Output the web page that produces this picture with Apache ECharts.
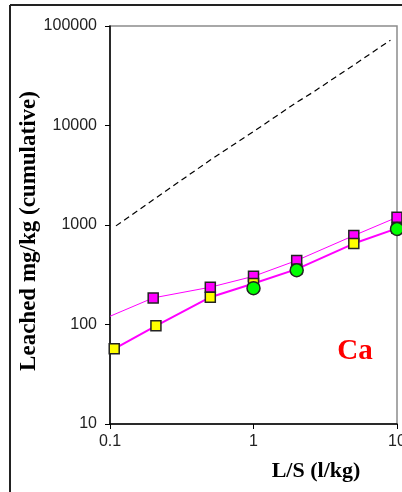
<!DOCTYPE html>
<html>
<head>
<meta charset="utf-8">
<script src="https://cdn.jsdelivr.net/npm/echarts@6/dist/echarts.min.js"></script>
<style>
html,body{margin:0;padding:0;background:#fff;}
#c{width:402px;height:492px;}
</style>
</head>
<body>
<div id="c"></div>
<script>
// Data
var dashX = [0.11, 0.2, 0.5, 1, 2, 2.6, 5, 9];
var dashY = [980, 1790, 4500, 8700, 17100, 21600, 40600, 72000];

var magentaX = [0.1, 0.2, 0.5, 1, 2, 5, 10];
var magentaY = [121, 185, 237, 305, 440, 783, 1195];

var yellowX = [0.107, 0.209, 0.5, 1, 2, 5, 10];
var yellowY = [57, 97, 188, 258, 360, 651, 926];

var greenX = [1, 2, 10];
var greenY = [232, 351, 912];

var xTicks = [0.1, 1, 10];
var yTicks = [10, 100, 1000, 10000, 100000];

var yTitle = 'Leached mg/kg (cumulative)';
var xTitle = 'L/S (l/kg)';
var elementLabel = 'Ca';

function pairs(xs, ys) { return xs.map(function (x, i) { return [x, ys[i]]; }); }

var chart = echarts.init(document.getElementById('c'), null, {renderer: 'canvas'});

var magentaData = pairs(magentaX, magentaY).map(function (p, i) {
  return i === 0 ? {value: p, symbolSize: 0} : p;
});

var serifFont = '"Liberation Serif", "Times New Roman", serif';
var sansFont = '"Liberation Sans", Arial, sans-serif';

chart.setOption({
  animation: false,
  backgroundColor: '#ffffff',
  grid: {
    left: 110, top: 26, right: 5, bottom: 68,
    containLabel: false, outerBoundsMode: 'none',
    show: true, borderColor: '#8c8c8c', borderWidth: 1.5, backgroundColor: 'transparent'
  },
  xAxis: {
    type: 'log', logBase: 10, min: xTicks[0], max: xTicks[xTicks.length - 1],
    axisLine: {show: true, onZero: false, lineStyle: {color: '#000', width: 1.5}},
    axisTick: {show: true, length: 5, lineStyle: {color: '#000', width: 1}},
    minorTick: {show: false},
    splitLine: {show: false},
    axisLabel: {
      margin: 10, color: '#222', fontSize: 16, fontFamily: sansFont,
      formatter: function (v) { return String(+Number(v).toPrecision(6)); },
      showMaxLabel: true
    }
  },
  yAxis: {
    type: 'log', logBase: 10, min: yTicks[0], max: yTicks[yTicks.length - 1],
    axisLine: {show: true, onZero: false, lineStyle: {color: '#000', width: 1.5}},
    axisTick: {show: true, length: 5, lineStyle: {color: '#000', width: 1}},
    splitLine: {show: false},
    axisLabel: {
      margin: 13, color: '#222', fontSize: 16, fontFamily: sansFont,
      formatter: function (v) { return String(+Number(v).toPrecision(6)); }
    }
  },
  series: [
    {
      type: 'line', data: pairs(dashX, dashY), symbol: 'none', clip: false,
      lineStyle: {color: '#000', width: 1.2, type: [6, 4]}, z: 2
    },
    {
      type: 'line', data: magentaData, symbol: 'rect', symbolSize: 10, clip: false,
      lineStyle: {color: '#ff00ff', width: 1},
      itemStyle: {color: '#ff00ff', borderColor: '#222', borderWidth: 1.5}, z: 3
    },
    {
      type: 'line', data: pairs(yellowX, yellowY), symbol: 'rect', symbolSize: 10, clip: false,
      lineStyle: {color: '#ff00ff', width: 2},
      itemStyle: {color: '#ffff00', borderColor: '#222', borderWidth: 1.5}, z: 4
    },
    {
      type: 'scatter', data: pairs(greenX, greenY), symbol: 'circle', symbolSize: 13, clip: false,
      itemStyle: {color: '#00ff00', borderColor: '#222', borderWidth: 1.5, opacity: 1}, z: 5
    }
  ],
  graphic: [
    {type: 'line', shape: {x1: 10, y1: 5, x2: 402, y2: 5}, style: {stroke: '#222', lineWidth: 2}},
    {type: 'line', shape: {x1: 10, y1: 5, x2: 10, y2: 492}, style: {stroke: '#222', lineWidth: 2}},
    {
      type: 'text', x: 29, y: 231, rotation: Math.PI / 2,
      style: {text: yTitle, fill: '#000', font: 'bold 23px ' + serifFont, textAlign: 'center', textVerticalAlign: 'middle'}
    },
    {
      type: 'text', x: 316, y: 471,
      style: {text: xTitle, fill: '#000', font: 'bold 22px ' + serifFont, textAlign: 'center', textVerticalAlign: 'middle'}
    },
    {
      type: 'text', x: 355, y: 352,
      style: {text: elementLabel, fill: '#ff0000', font: 'bold 29px ' + serifFont, textAlign: 'center', textVerticalAlign: 'middle'}
    }
  ]
});
</script>
</body>
</html>
